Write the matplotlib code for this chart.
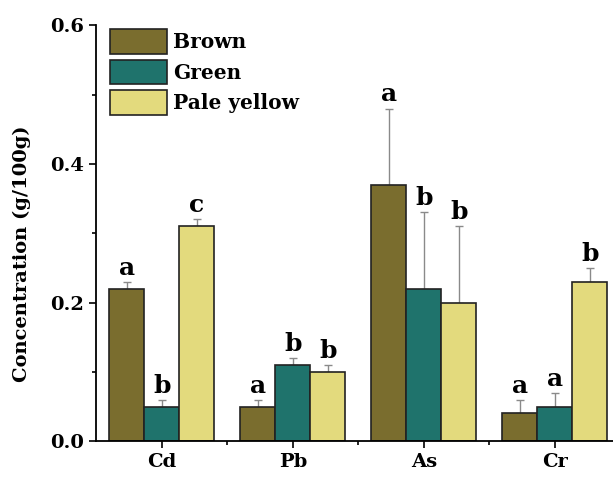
import matplotlib.pyplot as plt
import numpy as np

# Dados
metais = ['Cd', 'Pb', 'As', 'Cr']
series = ['Brown', 'Green', 'Pale yellow']
brown = [0.22, 0.05, 0.37, 0.04]
green = [0.05, 0.11, 0.22, 0.05]
pale = [0.31, 0.10, 0.20, 0.23]
err_brown = [0.01, 0.01, 0.11, 0.02]
err_green = [0.01, 0.01, 0.11, 0.02]
err_pale = [0.01, 0.01, 0.11, 0.02]
letras_brown = ['a', 'a', 'a', 'a']
letras_green = ['b', 'b', 'b', 'a']
letras_pale = ['c', 'b', 'b', 'b']

cores = ['#7a6d2e', '#1f736c', '#e3da7d']

plt.rcParams['font.family'] = ['DejaVu Serif']
plt.rcParams['font.weight'] = 'bold'

fig = plt.figure(figsize=(6.13, 4.79), dpi=100)
ax = fig.add_axes([0.157, 0.079, 0.855, 0.868])

x = np.arange(len(metais))
w = 0.267
dados = [brown, green, pale]
erros = [err_brown, err_green, err_pale]
letras = [letras_brown, letras_green, letras_pale]

for i in range(3):
    pos = x + (i - 1) * w
    ax.bar(pos, dados[i], w, color=cores[i], edgecolor='#222222', linewidth=1.2,
           label=series[i], zorder=2)
    ax.errorbar(pos, dados[i], yerr=[np.zeros(4), erros[i]], fmt='none',
                ecolor='#8a8a8a', elinewidth=1, capsize=3, capthick=1, zorder=1)
    for j in range(4):
        ax.text(pos[j], dados[i][j] + erros[i][j] + 0.003, letras[i][j],
                ha='center', va='bottom', fontsize=18, fontweight='bold')

ax.set_xlim(-0.5, 3.5)
ax.set_ylim(0, 0.6)
ax.set_xticks(x)
ax.set_xticklabels(metais)
ax.set_xticks(x[:-1] + 0.5, minor=True)
ax.set_yticks([0, 0.2, 0.4, 0.6])
ax.set_yticklabels(['0.0', '0.2', '0.4', '0.6'])
ax.set_yticks([0.1, 0.3, 0.5], minor=True)
ax.tick_params(axis='both', which='major', labelsize=14, length=5, width=1.2)
ax.tick_params(axis='both', which='minor', length=3, width=1.2)
ax.spines['top'].set_visible(False)
ax.spines['right'].set_visible(False)
ax.spines['left'].set_linewidth(1.3)
ax.spines['bottom'].set_linewidth(1.3)
ax.set_ylabel('Concentration (g/100g)', fontsize=14, fontweight='bold')
ax.yaxis.set_label_coords(-0.125, 0.45)

ax.legend(loc='upper left', bbox_to_anchor=(0.0, 1.025), frameon=False, fontsize=14.5,
          handlelength=2.8, handleheight=1.5, handletextpad=0.3, labelspacing=0.3,
          borderaxespad=0.3)

plt.savefig('out.png', dpi=100)
